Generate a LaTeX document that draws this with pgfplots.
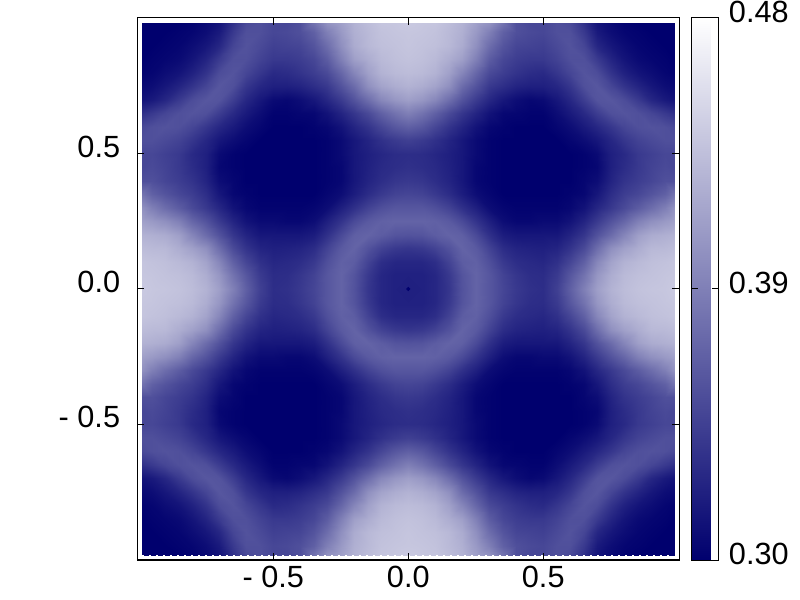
\documentclass[border=0pt]{standalone}
\usepackage{fontspec}
\setmainfont{Liberation Sans}
\usepackage{pgfplots}
\usepackage{pgfplotstable}
\pgfplotsset{compat=1.18}
\definecolor{navy}{RGB}{0,0,110}

% one quadrant (x>=0, y>=0), the map is mirrored into the other three
\pgfplotstableread[row sep=\\]{
x y v\\
0 0 .322\\ .05 0 .323\\ .1 0 .327\\ .15 0 .338\\ .2 0 .358\\ .25 0 .370\\ .3 0 .361\\ .35 0 .349\\ .4 0 .340\\ .45 0 .334\\ .5 0 .332\\ .55 0 .345\\ .6 0 .367\\ .65 0 .390\\ .7 0 .412\\ .75 0 .426\\ .8 0 .433\\ .85 0 .437\\ .9 0 .439\\ .95 0 .440\\ .985 0 .442\\
0 .05 .323\\ .05 .05 .323\\ .1 .05 .327\\ .15 .05 .340\\ .2 .05 .359\\ .25 .05 .370\\ .3 .05 .361\\ .35 .05 .347\\ .4 .05 .338\\ .45 .05 .332\\ .5 .05 .331\\ .55 .05 .341\\ .6 .05 .361\\ .65 .05 .381\\ .7 .05 .406\\ .75 .05 .422\\ .8 .05 .431\\ .85 .05 .435\\ .9 .05 .437\\ .95 .05 .439\\ .985 .05 .440\\
0 .1 .327\\ .05 .1 .327\\ .1 .1 .332\\ .15 .1 .347\\ .2 .1 .365\\ .25 .1 .368\\ .3 .1 .356\\ .35 .1 .340\\ .4 .1 .332\\ .45 .1 .329\\ .5 .1 .327\\ .55 .1 .334\\ .6 .1 .349\\ .65 .1 .368\\ .7 .1 .395\\ .75 .1 .415\\ .8 .1 .426\\ .85 .1 .431\\ .9 .1 .435\\ .95 .1 .437\\ .985 .1 .439\\
0 .15 .338\\ .05 .15 .340\\ .1 .15 .347\\ .15 .15 .358\\ .2 .15 .370\\ .25 .15 .363\\ .3 .15 .347\\ .35 .15 .331\\ .4 .15 .325\\ .45 .15 .323\\ .5 .15 .322\\ .55 .15 .325\\ .6 .15 .336\\ .65 .15 .352\\ .7 .15 .377\\ .75 .15 .401\\ .8 .15 .413\\ .85 .15 .422\\ .9 .15 .430\\ .95 .15 .431\\ .985 .15 .433\\
0 .2 .358\\ .05 .2 .359\\ .1 .2 .365\\ .15 .2 .370\\ .2 .2 .367\\ .25 .2 .352\\ .3 .2 .334\\ .35 .2 .320\\ .4 .2 .316\\ .45 .2 .316\\ .5 .2 .316\\ .55 .2 .316\\ .6 .2 .325\\ .65 .2 .338\\ .7 .2 .358\\ .75 .2 .376\\ .8 .2 .394\\ .85 .2 .412\\ .9 .2 .421\\ .95 .2 .424\\ .985 .2 .426\\
0 .25 .370\\ .05 .25 .370\\ .1 .25 .368\\ .15 .25 .363\\ .2 .25 .352\\ .25 .25 .336\\ .3 .25 .322\\ .35 .25 .309\\ .4 .25 .305\\ .45 .25 .305\\ .5 .25 .307\\ .55 .25 .307\\ .6 .25 .313\\ .65 .25 .325\\ .7 .25 .341\\ .75 .25 .358\\ .8 .25 .372\\ .85 .25 .390\\ .9 .25 .401\\ .95 .25 .408\\ .985 .25 .413\\
0 .3 .361\\ .05 .3 .361\\ .1 .3 .356\\ .15 .3 .347\\ .2 .3 .334\\ .25 .3 .322\\ .3 .3 .309\\ .35 .3 .304\\ .4 .3 .302\\ .45 .3 .302\\ .5 .3 .302\\ .55 .3 .302\\ .6 .3 .305\\ .65 .3 .313\\ .7 .3 .327\\ .75 .3 .340\\ .8 .3 .352\\ .85 .3 .365\\ .9 .3 .377\\ .95 .3 .390\\ .985 .3 .403\\
0 .35 .349\\ .05 .35 .347\\ .1 .35 .340\\ .15 .35 .331\\ .2 .35 .320\\ .25 .35 .309\\ .3 .35 .304\\ .35 .35 .300\\ .4 .35 .300\\ .45 .35 .300\\ .5 .35 .300\\ .55 .35 .300\\ .6 .35 .302\\ .65 .35 .305\\ .7 .35 .316\\ .75 .35 .332\\ .8 .35 .343\\ .85 .35 .350\\ .9 .35 .359\\ .95 .35 .368\\ .985 .35 .381\\
0 .4 .340\\ .05 .4 .338\\ .1 .4 .332\\ .15 .4 .325\\ .2 .4 .316\\ .25 .4 .305\\ .3 .4 .302\\ .35 .4 .300\\ .4 .4 .300\\ .45 .4 .300\\ .5 .4 .300\\ .55 .4 .300\\ .6 .4 .300\\ .65 .4 .304\\ .7 .4 .309\\ .75 .4 .325\\ .8 .4 .336\\ .85 .4 .343\\ .9 .4 .349\\ .95 .4 .356\\ .985 .4 .356\\
0 .45 .334\\ .05 .45 .332\\ .1 .45 .329\\ .15 .45 .323\\ .2 .45 .316\\ .25 .45 .305\\ .3 .45 .302\\ .35 .45 .300\\ .4 .45 .300\\ .45 .45 .300\\ .5 .45 .300\\ .55 .45 .300\\ .6 .45 .300\\ .65 .45 .302\\ .7 .45 .305\\ .75 .45 .322\\ .8 .45 .331\\ .85 .45 .340\\ .9 .45 .347\\ .95 .45 .352\\ .985 .45 .350\\
0 .5 .332\\ .05 .5 .331\\ .1 .5 .327\\ .15 .5 .322\\ .2 .5 .316\\ .25 .5 .307\\ .3 .5 .302\\ .35 .5 .300\\ .4 .5 .300\\ .45 .5 .300\\ .5 .5 .300\\ .55 .5 .300\\ .6 .5 .300\\ .65 .5 .302\\ .7 .5 .307\\ .75 .5 .322\\ .8 .5 .329\\ .85 .5 .340\\ .9 .5 .345\\ .95 .5 .350\\ .985 .5 .350\\
0 .55 .345\\ .05 .55 .341\\ .1 .55 .334\\ .15 .55 .325\\ .2 .55 .316\\ .25 .55 .307\\ .3 .55 .302\\ .35 .55 .300\\ .4 .55 .300\\ .45 .55 .300\\ .5 .55 .300\\ .55 .55 .300\\ .6 .55 .304\\ .65 .55 .309\\ .7 .55 .316\\ .75 .55 .327\\ .8 .55 .338\\ .85 .55 .347\\ .9 .55 .352\\ .95 .55 .356\\ .985 .55 .356\\
0 .6 .367\\ .05 .6 .361\\ .1 .6 .349\\ .15 .6 .336\\ .2 .6 .325\\ .25 .6 .313\\ .3 .6 .305\\ .35 .6 .302\\ .4 .6 .300\\ .45 .6 .300\\ .5 .6 .300\\ .55 .6 .304\\ .6 .6 .309\\ .65 .6 .318\\ .7 .6 .327\\ .75 .6 .338\\ .8 .6 .349\\ .85 .6 .356\\ .9 .6 .358\\ .95 .6 .356\\ .985 .6 .352\\
0 .65 .390\\ .05 .65 .381\\ .1 .65 .368\\ .15 .65 .352\\ .2 .65 .338\\ .25 .65 .325\\ .3 .65 .313\\ .35 .65 .305\\ .4 .65 .304\\ .45 .65 .302\\ .5 .65 .302\\ .55 .65 .309\\ .6 .65 .318\\ .65 .65 .329\\ .7 .65 .343\\ .75 .65 .356\\ .8 .65 .359\\ .85 .65 .356\\ .9 .65 .349\\ .95 .65 .340\\ .985 .65 .334\\
0 .7 .412\\ .05 .7 .406\\ .1 .7 .395\\ .15 .7 .377\\ .2 .7 .358\\ .25 .7 .341\\ .3 .7 .327\\ .35 .7 .316\\ .4 .7 .309\\ .45 .7 .305\\ .5 .7 .307\\ .55 .7 .316\\ .6 .7 .327\\ .65 .7 .343\\ .7 .7 .359\\ .75 .7 .361\\ .8 .7 .354\\ .85 .7 .341\\ .9 .7 .327\\ .95 .7 .318\\ .985 .7 .314\\
0 .75 .426\\ .05 .75 .422\\ .1 .75 .415\\ .15 .75 .401\\ .2 .75 .376\\ .25 .75 .358\\ .3 .75 .340\\ .35 .75 .332\\ .4 .75 .325\\ .45 .75 .322\\ .5 .75 .322\\ .55 .75 .327\\ .6 .75 .338\\ .65 .75 .356\\ .7 .75 .361\\ .75 .75 .349\\ .8 .75 .336\\ .85 .75 .325\\ .9 .75 .316\\ .95 .75 .309\\ .985 .75 .307\\
0 .8 .433\\ .05 .8 .431\\ .1 .8 .426\\ .15 .8 .413\\ .2 .8 .394\\ .25 .8 .372\\ .3 .8 .352\\ .35 .8 .343\\ .4 .8 .336\\ .45 .8 .331\\ .5 .8 .329\\ .55 .8 .338\\ .6 .8 .349\\ .65 .8 .359\\ .7 .8 .354\\ .75 .8 .336\\ .8 .8 .323\\ .85 .8 .314\\ .9 .8 .309\\ .95 .8 .304\\ .985 .8 .302\\
0 .85 .437\\ .05 .85 .435\\ .1 .85 .431\\ .15 .85 .422\\ .2 .85 .412\\ .25 .85 .390\\ .3 .85 .365\\ .35 .85 .350\\ .4 .85 .343\\ .45 .85 .340\\ .5 .85 .340\\ .55 .85 .347\\ .6 .85 .356\\ .65 .85 .356\\ .7 .85 .341\\ .75 .85 .325\\ .8 .85 .314\\ .85 .85 .307\\ .9 .85 .304\\ .95 .85 .302\\ .985 .85 .300\\
0 .9 .439\\ .05 .9 .437\\ .1 .9 .435\\ .15 .9 .430\\ .2 .9 .421\\ .25 .9 .401\\ .3 .9 .377\\ .35 .9 .359\\ .4 .9 .349\\ .45 .9 .347\\ .5 .9 .345\\ .55 .9 .352\\ .6 .9 .358\\ .65 .9 .349\\ .7 .9 .327\\ .75 .9 .316\\ .8 .9 .309\\ .85 .9 .304\\ .9 .9 .302\\ .95 .9 .300\\ .985 .9 .300\\
0 .95 .440\\ .05 .95 .439\\ .1 .95 .437\\ .15 .95 .431\\ .2 .95 .424\\ .25 .95 .408\\ .3 .95 .390\\ .35 .95 .368\\ .4 .95 .356\\ .45 .95 .352\\ .5 .95 .350\\ .55 .95 .356\\ .6 .95 .356\\ .65 .95 .340\\ .7 .95 .318\\ .75 .95 .309\\ .8 .95 .304\\ .85 .95 .302\\ .9 .95 .300\\ .95 .95 .300\\ .985 .95 .300\\
0 .985 .442\\ .05 .985 .440\\ .1 .985 .439\\ .15 .985 .433\\ .2 .985 .426\\ .25 .985 .413\\ .3 .985 .403\\ .35 .985 .381\\ .4 .985 .356\\ .45 .985 .350\\ .5 .985 .350\\ .55 .985 .356\\ .6 .985 .352\\ .65 .985 .334\\ .7 .985 .314\\ .75 .985 .307\\ .8 .985 .302\\ .85 .985 .300\\ .9 .985 .300\\ .95 .985 .300\\ .985 .985 .300\\
}\quadrant

\begin{document}
\begin{tikzpicture}
\path[use as bounding box] (0,0) rectangle (600pt,450pt);
\begin{axis}[
  at={(103.1pt,30pt)}, anchor=south west,
  scale only axis,
  width=406.2pt, height=406.5pt,
  xmin=-1.003, xmax=1.003,
  ymin=-1.003, ymax=1.003,
  xtick={-0.5,0,0.5}, ytick={-0.5,0,0.5},
  xticklabels={- 0.5,0.0,0.5}, yticklabels={- 0.5,0.0,0.5},
  tick align=inside,
  major tick length=5pt,
  tick style={black, line width=0.75pt},
  axis line style={line width=0.75pt},
  tick label style={font=\fontsize{23}{23}\selectfont},
  xticklabel style={yshift=-1pt},
  yticklabel style={yshift=5.5pt, xshift=-9.5pt},
  axis on top,
  colormap={navywhite}{rgb255=(0,0,110) rgb255=(255,255,255)},
  point meta min=0.30, point meta max=0.48,
  colorbar,
  colorbar style={
    at={(parent axis.north east)}, anchor=north west, xshift=0.75pt,
    width=20.6pt,
    height=406.5pt,
    ytick={0.30,0.39,0.48},
    yticklabels={0.30,0.39,0.48},
    ytick pos=both, yticklabel pos=right,
    tick align=inside,
    major tick length=5pt,
    tick style={black, line width=0.75pt},
    axis line style={line width=0.75pt},
    yticklabel style={yshift=4.5pt, xshift=4pt},
  },
]
\addplot[surf, shader=interp, mesh/cols=21, point meta=explicit] table[x=x, y=y, meta=v] {\quadrant};
\addplot[surf, shader=interp, mesh/cols=21, point meta=explicit] table[x expr=-\thisrow{x}, y=y, meta=v] {\quadrant};
\addplot[surf, shader=interp, mesh/cols=21, point meta=explicit] table[x=x, y expr=-\thisrow{y}, meta=v] {\quadrant};
\addplot[surf, shader=interp, mesh/cols=21, point meta=explicit] table[x expr=-\thisrow{x}, y expr=-\thisrow{y}, meta=v] {\quadrant};
\addplot[white, line width=0.75pt, dash pattern=on 1.5pt off 3.75pt] coordinates {(-0.985,0.985) (0.985,0.985)};
\addplot[white, line width=0.75pt, dash pattern=on 1.5pt off 3.75pt] coordinates {(-0.985,-0.985) (0.985,-0.985)};
\addplot[only marks, mark=*, mark size=1.3pt, navy] coordinates {(0,0)};
\end{axis}
\end{tikzpicture}
\end{document}
